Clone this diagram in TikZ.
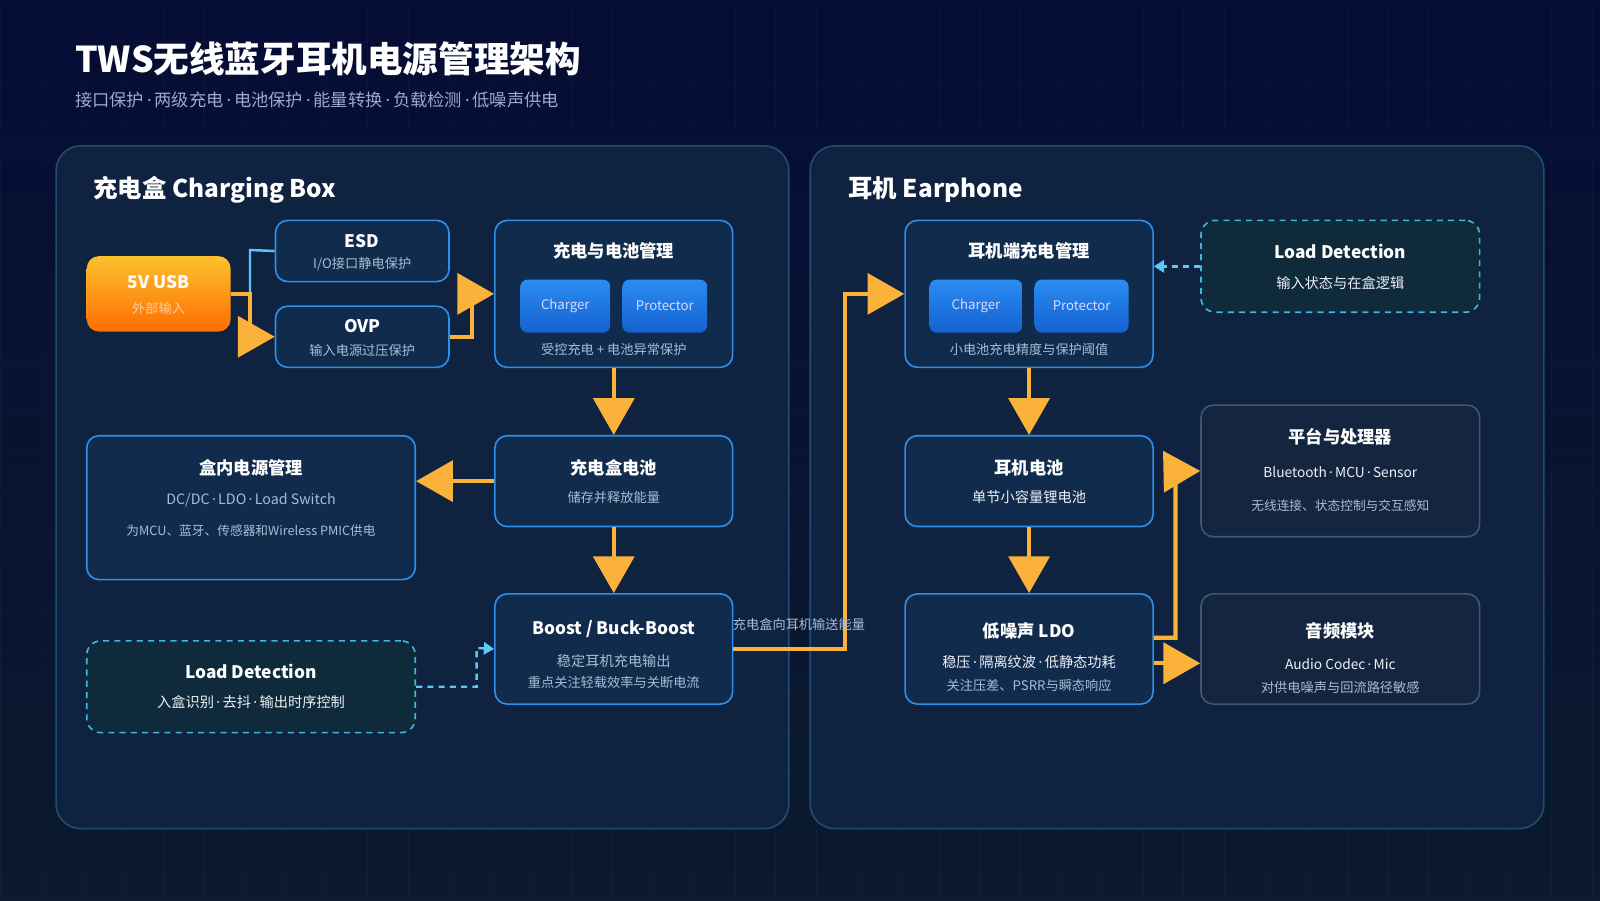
\documentclass[tikz,border=0pt]{standalone}
\usepackage{fontspec}
\setmainfont{Noto Sans CJK SC}
\newfontfamily\latinfont{Noto Sans}
\usetikzlibrary{arrows.meta,positioning,calc}
\definecolor{bgdark}{HTML}{0B1A2E}
\definecolor{panelfill}{HTML}{0F2240}
\definecolor{panelline}{HTML}{1F4C73}
\definecolor{boxfill}{HTML}{112B4D}
\definecolor{boxline}{HTML}{2E8FE8}
\definecolor{grayline}{HTML}{3D5673}
\definecolor{grayfill}{HTML}{14263F}
\definecolor{ldfill}{HTML}{0F2A3A}
\definecolor{ldline}{HTML}{3CB8D8}
\definecolor{flow}{HTML}{FBB23A}
\definecolor{sig}{HTML}{5EC8F5}
\definecolor{subtxt}{HTML}{A9BCD3}
\definecolor{chipa}{HTML}{2A8CF2}
\definecolor{chipb}{HTML}{1561D0}
\newcommand{\md}{{\latinfont\,·\,}}
\tikzset{
  box/.style={draw=boxline, fill=boxfill, line width=1.6bp, rounded corners=12bp},
  graybox/.style={draw=grayline, fill=grayfill, line width=1.6bp, rounded corners=12bp},
  ldbox/.style={draw=ldline, fill=ldfill, line width=1.6bp, dashed, dash pattern=on 6bp off 5bp, rounded corners=14bp},
  chip/.style={rounded corners=7bp, top color=chipa, bottom color=chipb, text=white!85!blue, font=\fontsize{13}{13}\selectfont},
  ttl/.style={text=white, font=\bfseries\fontsize{17}{17}\selectfont},
  sub/.style={text=subtxt, font=\fontsize{13}{13}\selectfont},
  power/.style={draw=flow, line width=4bp, -{Triangle[length=36bp,width=40bp]}},
  ctrl/.style={draw=sig, line width=2.4bp, dashed, dash pattern=on 6bp off 5bp, -{Triangle[length=10bp,width=12bp]}}
}
\newcommand{\blk}[6]{% name, style, x1, y1, x2, y2
  \node[#2, minimum width={(#5-#3)*1bp}, minimum height={(#6-#4)*1bp}, inner sep=0pt] (#1) at ({(#3+#5)/2},{(#4+#6)/2}) {};}
\begin{document}
\begin{tikzpicture}[x=1bp,y=-1bp]
% background
\fill[top color=bgdark!80!blue!60!black, bottom color=bgdark] (0,0) rectangle (1568,882);
\useasboundingbox (0,0) rectangle (1568,882);
\foreach \gx in {0,40,...,1560} \draw[white, opacity=0.025] (\gx,0) -- (\gx,882);
\foreach \gy in {0,40,...,880} \draw[white, opacity=0.025] (0,\gy) -- (1568,\gy);

% title
\node[anchor=west, text=white, font=\bfseries\fontsize{35}{35}\selectfont] (title) at (70,58) {TWS无线蓝牙耳机电源管理架构};
\node[anchor=west, text=subtxt!90!blue, font=\fontsize{17}{17}\selectfont] (subtitle) at (70,98) {接口保护\md 两级充电\md 电池保护\md 能量转换\md 负载检测\md 低噪声供电};

% panels
\draw[draw=panelline, fill=panelfill, line width=1.6bp, rounded corners=24bp] (55,143) rectangle (773,812);
\draw[draw=panelline, fill=panelfill, line width=1.6bp, rounded corners=24bp] (794,143) rectangle (1513,812);
\node[anchor=west, text=white, font=\bfseries\fontsize{24}{24}\selectfont] (boxhead) at (88,186) {充电盒 Charging Box};
\node[anchor=west, text=white, font=\bfseries\fontsize{24}{24}\selectfont] (earhead) at (828,186) {耳机 Earphone};

% charging box blocks
\node[rounded corners=12bp, top color=flow!80!yellow, bottom color=orange!85!red, minimum width=141bp, minimum height=74bp] (usb) at (155.5,288) {};
\node[text=white, font=\bfseries\fontsize{17}{17}\selectfont] at ($(usb)+(0,-12)$) {5V USB};
\node[text=white!60!orange, font=\fontsize{13}{13}\selectfont] at ($(usb)+(0,14)$) {外部输入};

\blk{esd}{box}{270}{216}{440}{276}
\node[ttl] at ($(esd)+(0,-10)$) {ESD};
\node[sub] at ($(esd)+(0,13)$) {I/O接口静电保护};

\blk{ovp}{box}{270}{300}{440}{360}
\node[ttl] at ($(ovp)+(0,-10)$) {OVP};
\node[sub] at ($(ovp)+(0,13)$) {输入电源过压保护};

\blk{chgmgr}{box}{485}{216}{718}{360}
\node[ttl] at ($(chgmgr)+(0,-42)$) {充电与电池管理};
\node[chip, minimum width=88bp, minimum height=52bp] (boxchg) at (554,300) {Charger};
\node[chip, minimum width=83bp, minimum height=52bp] (boxprot) at (651.5,300) {Protector};
\node[sub] at ($(chgmgr)+(0,54)$) {受控充电 + 电池异常保护};

\blk{boxbat}{box}{485}{427}{718}{516}
\node[ttl] at ($(boxbat)+(0,-13)$) {充电盒电池};
\node[sub] at ($(boxbat)+(0,16)$) {储存并释放能量};

\blk{boxpwr}{box}{85}{427}{407}{568}
\node[ttl] at ($(boxpwr)+(0,-39)$) {盒内电源管理};
\node[sub, font=\fontsize{14}{14}\selectfont] at ($(boxpwr)+(0,-7)$) {DC/DC\md LDO\md Load Switch};
\node[sub, font=\fontsize{12.5}{12.5}\selectfont] at ($(boxpwr)+(0,23)$) {为MCU、蓝牙、传感器和Wireless PMIC供电};

\blk{boost}{box}{485}{582}{718}{690}
\node[ttl] at ($(boost)+(0,-20)$) {Boost / Buck-Boost};
\node[sub, font=\fontsize{14}{14}\selectfont] at ($(boost)+(0,12)$) {稳定耳机充电输出};
\node[sub] at ($(boost)+(0,33)$) {重点关注轻载效率与关断电流};

\blk{boxload}{ldbox}{85}{628}{407}{718}
\node[ttl] at ($(boxload)+(0,-15)$) {Load Detection};
\node[sub, text=white!80!subtxt, font=\fontsize{14}{14}\selectfont] at ($(boxload)+(0,15)$) {入盒识别\md 去抖\md 输出时序控制};

% earphone blocks
\blk{earmgr}{box}{887}{216}{1130}{360}
\node[ttl] at ($(earmgr)+(0,-42)$) {耳机端充电管理};
\node[chip, minimum width=91bp, minimum height=52bp] (earchg) at (956.5,300) {Charger};
\node[chip, minimum width=92bp, minimum height=52bp] (earprot) at (1060,300) {Protector};
\node[sub] at ($(earmgr)+(0,54)$) {小电池充电精度与保护阈值};

\blk{earload}{ldbox}{1177}{216}{1450}{306}
\node[ttl] at ($(earload)+(0,-15)$) {Load Detection};
\node[sub, text=white!80!subtxt, font=\fontsize{14}{14}\selectfont] at ($(earload)+(0,16)$) {输入状态与在盒逻辑};

\blk{earbat}{box}{887}{427}{1130}{516}
\node[ttl] at ($(earbat)+(0,-13)$) {耳机电池};
\node[sub, text=white!80!subtxt, font=\fontsize{14}{14}\selectfont] at ($(earbat)+(0,16)$) {单节小容量锂电池};

\blk{ldo}{box}{887}{582}{1130}{690}
\node[ttl] at ($(ldo)+(0,-18)$) {低噪声 LDO};
\node[sub, text=white!80!subtxt, font=\fontsize{14}{14}\selectfont] at ($(ldo)+(0,13)$) {稳压\md 隔离纹波\md 低静态功耗};
\node[sub] at ($(ldo)+(0,36)$) {关注压差、PSRR与瞬态响应};

\blk{soc}{graybox}{1177}{397}{1450}{526}
\node[ttl] at ($(soc)+(0,-33)$) {平台与处理器};
\node[sub, text=white!80!subtxt, font=\fontsize{13.5}{13.5}\selectfont] at ($(soc)+(0,1)$) {Bluetooth\md MCU\md Sensor};
\node[sub, font=\fontsize{12.5}{12.5}\selectfont] at ($(soc)+(0,34)$) {无线连接、状态控制与交互感知};

\blk{audio}{graybox}{1177}{582}{1450}{690}
\node[ttl] at ($(audio)+(0,-18)$) {音频模块};
\node[sub, text=white!80!subtxt, font=\fontsize{13.5}{13.5}\selectfont] at ($(audio)+(0,15)$) {Audio Codec\md Mic};
\node[sub] at ($(audio)+(0,38)$) {对供电噪声与回流路径敏感};

% connectors
\draw[sig, line width=2.4bp] (usb.east) -| (245,245) -- (esd.west);
\draw[power] (usb.east) -| (245,330) -- (ovp.west);
\draw[power] (ovp.east) -| (463,288) -- (chgmgr.west);
\draw[power] (chgmgr.south) -- (boxbat.north);
\draw[power] (boxbat.west) -- (boxbat.west -| boxpwr.east);
\draw[power] (boxbat.south) -- (boost.north);
\draw[ctrl] (boxload.east) -| (467,635) -- (boost.west);
\draw[power] (boost.east) -| (828,288) -- (earmgr.west);
\node[text=subtxt, font=\fontsize{13}{13}\selectfont] (linklabel) at (783,612) {充电盒向耳机输送能量};
\draw[ctrl] (earload.west |- 0,261) -- (earmgr.east |- 0,261);
\draw[power] (earmgr.south) -- (earbat.north);
\draw[power] (earbat.south) -- (ldo.north);
\draw[power] (ldo.east |- 0,625) -| (1152,462) -- (soc.west);
\draw[power] (ldo.east |- 0,650) -- (audio.west |- 0,650);
\end{tikzpicture}
\end{document}
